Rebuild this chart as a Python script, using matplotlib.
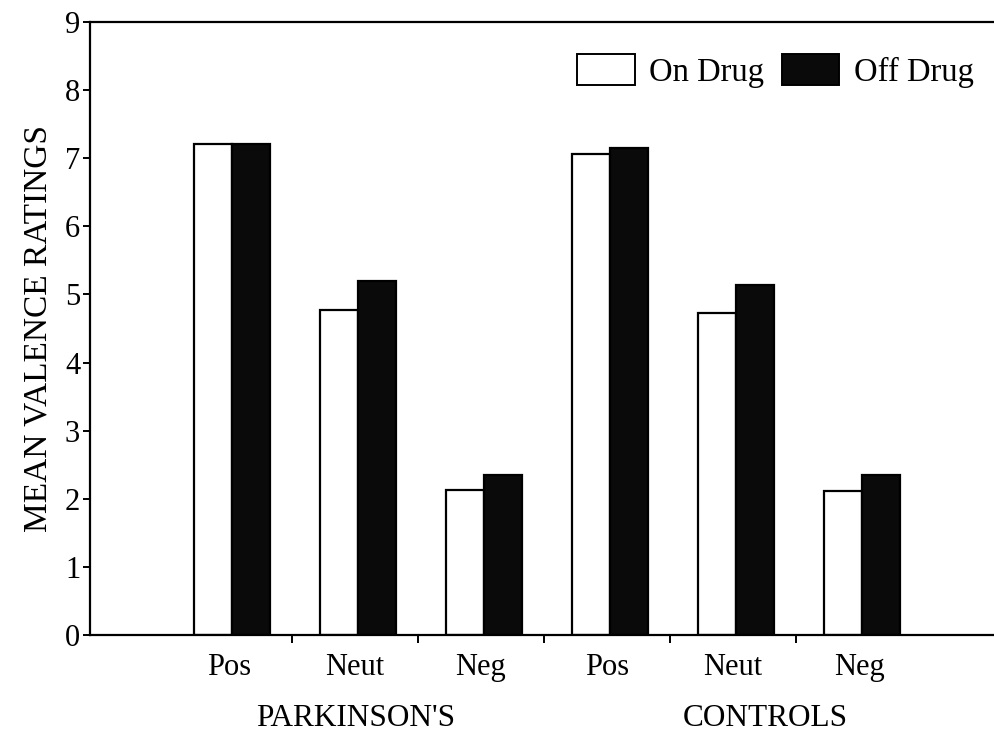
import matplotlib
matplotlib.use("Agg")
import matplotlib.pyplot as plt
import numpy as np
from matplotlib.patches import Patch

categories = ["Pos", "Neut", "Neg", "Pos", "Neut", "Neg"]
groups = ["PARKINSON'S", "CONTROLS"]
on_drug = [7.21, 4.77, 2.13, 7.06, 4.73, 2.11]
off_drug = [7.21, 5.20, 2.35, 7.15, 5.14, 2.35]
yticks = [0, 1, 2, 3, 4, 5, 6, 7, 8, 9]

plt.rcParams['font.family'] = ['Liberation Serif', 'DejaVu Serif']

fig = plt.figure(figsize=(9.94, 7.42), dpi=100)
ax = fig.add_axes([0.0905, 0.1442, 0.9095, 0.8262])

x = np.arange(len(categories))
w = 0.30
shift = 0.025
ax.bar(x - w / 2 + shift, on_drug, w, facecolor='white', edgecolor='black', linewidth=1.6, label='On Drug')
ax.bar(x + w / 2 + shift, off_drug, w, facecolor='#0a0a0a', edgecolor='black', linewidth=1.6, label='Off Drug')

ax.set_ylim(0, 9)
ax.set_xlim(-1.1, 6.07)
ax.set_yticks(yticks)
ax.set_yticklabels([str(t) for t in yticks], fontsize=22)
ax.set_xticks(x)
ax.set_xticklabels(categories, fontsize=22)
ax.set_xticks(np.arange(0.5, 5.0, 1.0), minor=True)
ax.tick_params(axis='x', which='major', length=0, pad=13)
ax.tick_params(axis='x', which='minor', length=6, width=1.4, direction='out')
ax.tick_params(axis='y', length=5, width=1.4, direction='out', pad=2)

for s in ['left', 'bottom', 'top']:
    ax.spines[s].set_linewidth(1.6)
ax.spines['right'].set_visible(False)

ax.set_ylabel('MEAN VALENCE RATINGS', fontsize=24, labelpad=8)

fig.text(356 / 994, 1 - 718 / 742, groups[0], ha='center', va='center', fontsize=22.5)
fig.text(765 / 994, 1 - 718 / 742, groups[1], ha='center', va='center', fontsize=22.5)

handles = [Patch(facecolor='white', edgecolor='black', linewidth=1.4),
           Patch(facecolor='#0a0a0a', edgecolor='black', linewidth=1.4)]
ax.legend(handles, ['On Drug', 'Off Drug'], loc='upper right', bbox_to_anchor=(1.003, 0.985),
          ncol=2, frameon=False, fontsize=23.5, handlelength=1.75, handleheight=1.1,
          handletextpad=0.45, columnspacing=0.55, borderpad=0.2)

fig.savefig('out.png', dpi=100)
